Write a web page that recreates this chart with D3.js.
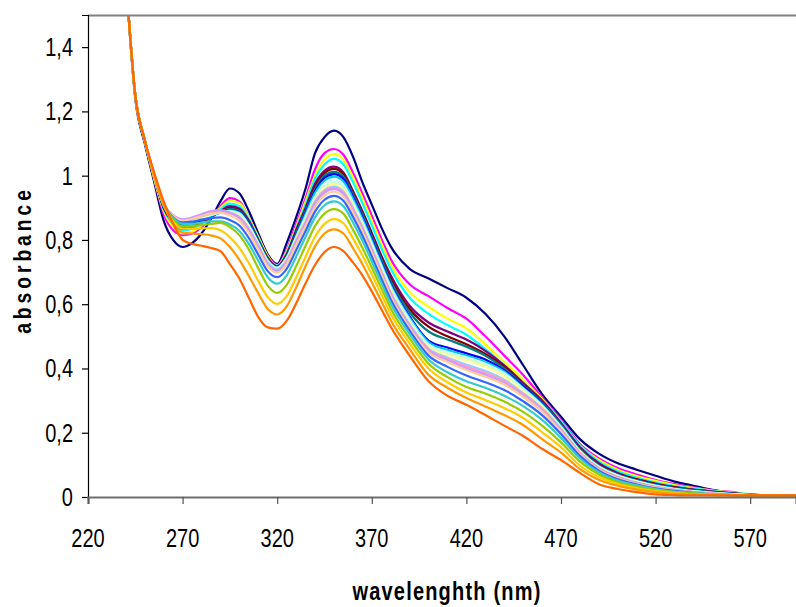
<!DOCTYPE html>
<html>
<head>
<meta charset="utf-8">
<script src="https://cdn.jsdelivr.net/npm/d3@7"></script>
<style>
  body { margin: 0; background: #fff; }
  svg { display: block; font-family: "Liberation Sans", Arial, sans-serif; }
</style>
</head>
<body>
<svg id="chart" width="796" height="607"></svg>
<script>
// wavelength grid (nm) shared by every run
var wavelengths = [240,245,250,255,260,265,270,275,280,285,290,295,300,305,310,315,320,325,330,335,340,345,350,355,360,365,370,375,380,390,400,410,420,430,440,450,460,470,480,490,500,510,520,530,540,550,560,570,580,600];

var xTicks = [220,270,320,370,420,470,520,570];
var yTicks = [0,0.2,0.4,0.6,0.8,1,1.2,1.4];

var run01 = [1.62,1.24,1.10,0.98,0.86,0.80,0.778,0.79,0.82,0.865,0.92,0.96,0.945,0.89,0.82,0.755,0.725,0.79,0.87,0.96,1.07,1.12,1.14,1.12,1.06,0.98,0.91,0.84,0.78,0.71,0.68,0.65,0.62,0.57,0.50,0.41,0.32,0.25,0.18,0.135,0.105,0.085,0.066,0.048,0.035,0.022,0.012,0.006,0.004,0.003];
var run02 = [1.62,1.25,1.11,0.99,0.88,0.83,0.815,0.82,0.84,0.87,0.905,0.93,0.92,0.87,0.81,0.75,0.722,0.77,0.85,0.93,1.02,1.07,1.083,1.065,1.01,0.945,0.875,0.805,0.74,0.662,0.625,0.588,0.555,0.50,0.44,0.38,0.31,0.24,0.165,0.12,0.09,0.07,0.053,0.04,0.03,0.021,0.016,0.007,0.004,0.003];
var run03 = [1.62,1.25,1.11,0.99,0.89,0.84,0.82,0.825,0.845,0.87,0.90,0.922,0.915,0.87,0.81,0.75,0.72,0.765,0.84,0.92,1.00,1.05,1.068,1.05,0.995,0.93,0.86,0.79,0.725,0.638,0.592,0.555,0.525,0.475,0.42,0.365,0.305,0.235,0.16,0.115,0.085,0.065,0.05,0.037,0.028,0.02,0.014,0.009,0.004,0.003];
var run04 = [1.62,1.25,1.11,1.0,0.895,0.85,0.83,0.835,0.85,0.87,0.895,0.913,0.905,0.865,0.805,0.745,0.72,0.76,0.835,0.91,0.99,1.035,1.052,1.035,0.98,0.915,0.845,0.775,0.71,0.62,0.57,0.535,0.505,0.46,0.41,0.355,0.30,0.235,0.16,0.11,0.08,0.06,0.045,0.034,0.026,0.019,0.013,0.009,0.004,0.003];
var run05 = [1.62,1.25,1.11,1.0,0.90,0.855,0.835,0.84,0.855,0.87,0.89,0.905,0.898,0.86,0.80,0.745,0.718,0.755,0.83,0.90,0.975,1.015,1.028,1.01,0.953,0.89,0.822,0.752,0.69,0.595,0.543,0.515,0.49,0.455,0.41,0.355,0.30,0.23,0.155,0.105,0.075,0.056,0.042,0.031,0.023,0.017,0.012,0.008,0.004,0.003];
var run06 = [1.62,1.25,1.11,1.0,0.90,0.86,0.84,0.845,0.858,0.872,0.888,0.90,0.893,0.855,0.80,0.742,0.716,0.753,0.825,0.895,0.965,1.008,1.021,1.005,0.948,0.885,0.815,0.745,0.68,0.585,0.53,0.50,0.475,0.445,0.405,0.35,0.295,0.225,0.15,0.10,0.072,0.054,0.04,0.03,0.022,0.016,0.011,0.007,0.004,0.003];
var run07 = [1.62,1.25,1.11,1.0,0.905,0.862,0.845,0.848,0.86,0.873,0.887,0.897,0.89,0.853,0.798,0.74,0.715,0.75,0.82,0.89,0.958,1.0,1.012,0.997,0.942,0.88,0.81,0.74,0.672,0.575,0.515,0.49,0.468,0.44,0.40,0.348,0.293,0.225,0.148,0.098,0.07,0.052,0.038,0.028,0.021,0.015,0.01,0.007,0.004,0.003];
var run08 = [1.62,1.25,1.11,1.0,0.905,0.865,0.85,0.852,0.862,0.874,0.886,0.894,0.887,0.85,0.795,0.738,0.714,0.748,0.815,0.885,0.952,0.993,1.005,0.99,0.935,0.872,0.803,0.731,0.663,0.562,0.487,0.465,0.447,0.428,0.395,0.345,0.29,0.22,0.145,0.095,0.068,0.05,0.036,0.026,0.019,0.014,0.01,0.006,0.004,0.003];
var run09 = [1.62,1.25,1.11,1.0,0.905,0.868,0.855,0.857,0.865,0.875,0.885,0.892,0.885,0.848,0.793,0.737,0.714,0.746,0.812,0.88,0.946,0.985,0.997,0.982,0.928,0.866,0.797,0.726,0.658,0.557,0.482,0.458,0.44,0.42,0.39,0.34,0.288,0.22,0.145,0.095,0.068,0.05,0.036,0.026,0.019,0.014,0.01,0.008,0.004,0.003];
var run10 = [1.62,1.25,1.11,1.0,0.91,0.87,0.858,0.86,0.868,0.878,0.886,0.89,0.882,0.845,0.79,0.735,0.713,0.744,0.808,0.872,0.935,0.973,0.985,0.97,0.918,0.857,0.789,0.719,0.652,0.551,0.475,0.45,0.435,0.415,0.385,0.337,0.285,0.218,0.143,0.094,0.067,0.049,0.035,0.025,0.018,0.013,0.009,0.006,0.004,0.003];
var run11 = [1.62,1.25,1.11,1.0,0.91,0.872,0.86,0.862,0.87,0.879,0.886,0.888,0.879,0.842,0.788,0.733,0.712,0.742,0.805,0.867,0.93,0.967,0.978,0.963,0.912,0.852,0.784,0.714,0.647,0.546,0.471,0.446,0.43,0.41,0.38,0.333,0.282,0.216,0.142,0.093,0.066,0.048,0.034,0.024,0.017,0.012,0.008,0.006,0.004,0.003];
var run12 = [1.62,1.25,1.11,1.0,0.91,0.873,0.86,0.863,0.871,0.88,0.886,0.886,0.876,0.84,0.786,0.731,0.71,0.74,0.802,0.863,0.925,0.961,0.972,0.957,0.907,0.847,0.779,0.709,0.642,0.541,0.467,0.442,0.425,0.405,0.375,0.33,0.28,0.214,0.14,0.092,0.065,0.047,0.033,0.024,0.017,0.012,0.008,0.005,0.004,0.003];
var run13 = [1.62,1.25,1.11,1.0,0.91,0.874,0.862,0.865,0.873,0.882,0.887,0.884,0.872,0.836,0.783,0.729,0.708,0.737,0.798,0.858,0.92,0.955,0.966,0.951,0.90,0.841,0.774,0.704,0.637,0.537,0.462,0.434,0.412,0.392,0.365,0.323,0.276,0.212,0.138,0.09,0.063,0.045,0.032,0.023,0.016,0.011,0.007,0.005,0.004,0.003];
var run14 = [1.62,1.25,1.11,1.0,0.91,0.875,0.862,0.866,0.875,0.884,0.888,0.883,0.87,0.833,0.78,0.726,0.705,0.734,0.795,0.855,0.916,0.951,0.962,0.947,0.896,0.837,0.77,0.70,0.634,0.533,0.458,0.43,0.406,0.386,0.36,0.32,0.274,0.21,0.137,0.089,0.062,0.044,0.031,0.022,0.015,0.011,0.007,0.005,0.004,0.003];
var run15 = [1.62,1.25,1.11,1.0,0.912,0.877,0.865,0.87,0.88,0.89,0.893,0.885,0.868,0.83,0.777,0.724,0.703,0.731,0.791,0.851,0.912,0.947,0.958,0.943,0.892,0.833,0.766,0.697,0.63,0.53,0.455,0.426,0.40,0.38,0.355,0.316,0.27,0.207,0.135,0.087,0.06,0.043,0.03,0.021,0.015,0.01,0.007,0.005,0.004,0.003];
var run16 = [1.62,1.25,1.11,1.0,0.912,0.875,0.86,0.865,0.874,0.882,0.884,0.876,0.86,0.822,0.77,0.718,0.698,0.725,0.784,0.843,0.903,0.939,0.95,0.935,0.885,0.826,0.76,0.692,0.625,0.525,0.45,0.42,0.395,0.374,0.35,0.312,0.266,0.204,0.133,0.085,0.058,0.041,0.029,0.02,0.014,0.01,0.006,0.005,0.004,0.003];
var run17 = [1.62,1.25,1.11,1.0,0.912,0.87,0.855,0.857,0.863,0.868,0.87,0.862,0.845,0.806,0.754,0.703,0.684,0.71,0.768,0.828,0.888,0.925,0.937,0.922,0.872,0.814,0.748,0.68,0.615,0.518,0.44,0.405,0.378,0.357,0.333,0.298,0.255,0.196,0.128,0.082,0.055,0.039,0.027,0.019,0.013,0.009,0.006,0.005,0.004,0.003];
var run18 = [1.62,1.25,1.11,1.0,0.91,0.868,0.85,0.85,0.854,0.858,0.858,0.848,0.828,0.788,0.735,0.684,0.664,0.69,0.748,0.81,0.87,0.908,0.92,0.905,0.855,0.798,0.733,0.667,0.602,0.507,0.428,0.388,0.36,0.34,0.315,0.283,0.24,0.184,0.12,0.077,0.051,0.036,0.025,0.017,0.012,0.009,0.006,0.005,0.004,0.003];
var run19 = [1.62,1.25,1.11,1.0,0.91,0.862,0.842,0.843,0.846,0.85,0.853,0.84,0.815,0.77,0.712,0.658,0.635,0.66,0.718,0.782,0.843,0.882,0.896,0.882,0.832,0.776,0.714,0.65,0.587,0.493,0.415,0.373,0.342,0.322,0.297,0.265,0.222,0.17,0.11,0.07,0.046,0.032,0.022,0.015,0.011,0.008,0.006,0.005,0.004,0.003];
var run20 = [1.62,1.25,1.11,1.0,0.91,0.857,0.835,0.835,0.836,0.837,0.83,0.808,0.775,0.728,0.672,0.622,0.601,0.625,0.683,0.748,0.81,0.85,0.865,0.852,0.805,0.752,0.693,0.632,0.57,0.478,0.40,0.357,0.325,0.302,0.277,0.246,0.202,0.155,0.098,0.062,0.04,0.027,0.018,0.012,0.009,0.007,0.006,0.005,0.004,0.003];
var run21 = [1.62,1.25,1.11,1.0,0.91,0.85,0.823,0.82,0.818,0.814,0.805,0.778,0.738,0.688,0.634,0.585,0.568,0.593,0.652,0.718,0.78,0.82,0.833,0.82,0.775,0.725,0.668,0.61,0.55,0.46,0.38,0.34,0.308,0.282,0.255,0.224,0.18,0.138,0.087,0.054,0.035,0.023,0.015,0.01,0.008,0.006,0.005,0.005,0.004,0.003];
var run22 = [1.62,1.25,1.11,1.01,0.92,0.85,0.80,0.788,0.782,0.775,0.765,0.725,0.68,0.62,0.56,0.528,0.524,0.548,0.602,0.665,0.722,0.762,0.778,0.765,0.73,0.69,0.64,0.585,0.53,0.44,0.36,0.315,0.287,0.255,0.222,0.19,0.15,0.115,0.075,0.04,0.025,0.015,0.008,0.006,0.005,0.005,0.005,0.005,0.005,0.005];

var runs = [run01,run02,run03,run04,run05,run06,run07,run08,run09,run10,run11,
            run12,run13,run14,run15,run16,run17,run18,run19,run20,run21,run22];

var runColors = ["#000080","#FF00FF","#FFFF00","#00FFFF","#800080","#800000","#008080","#0000FF",
                 "#00CCFF","#CCFFFF","#CCFFCC","#FFFF99","#99CCFF","#FF99CC","#CC99FF","#FFCC99",
                 "#3366FF","#33CCCC","#99CC00","#FFCC00","#FF9900","#FF6600"];

var svg = d3.select("#chart");
var plotLeft = 88, plotRight = 796, plotTop = 15, plotBottom = 497;

var xScale = d3.scaleLinear()
    .domain([220, 220 + (plotRight - plotLeft) / 1.892])
    .range([plotLeft, plotRight]);

var yScale = d3.scaleLinear()
    .domain([0, 1.5])
    .range([plotBottom, plotTop]);

svg.append("clipPath").attr("id", "plotClip")
    .append("rect")
    .attr("x", plotLeft).attr("y", plotTop)
    .attr("width", plotRight - plotLeft).attr("height", plotBottom - plotTop);

var line = d3.line()
    .x(function(d, i) { return xScale(wavelengths[i]); })
    .y(function(d) { return yScale(d); })
    .curve(d3.curveMonotoneX);

svg.append("g")
    .attr("clip-path", "url(#plotClip)")
    .selectAll("path")
    .data(runs)
    .enter()
    .append("path")
    .attr("d", line)
    .attr("fill", "none")
    .attr("stroke", function(d, i) { return runColors[i]; })
    .attr("stroke-width", 2.2)
    .attr("stroke-linejoin", "round");

// top border
svg.append("line")
    .attr("x1", plotLeft).attr("x2", plotRight)
    .attr("y1", plotTop + 0.5).attr("y2", plotTop + 0.5)
    .attr("stroke", "#808080").attr("stroke-width", 2);

// axes
var xAxis = d3.axisBottom(xScale).tickValues(xTicks).tickSize(7).tickFormat("");
var yAxis = d3.axisLeft(yScale).tickValues(yTicks).tickSize(6).tickFormat("");

var gy = svg.append("g")
    .attr("transform", "translate(" + plotLeft + ",0)")
    .call(yAxis);
gy.select(".domain").attr("stroke", "#000").attr("stroke-width", 1.2);
gy.selectAll(".tick line").attr("stroke", "#000").attr("stroke-width", 1.2);

var gx = svg.append("g")
    .attr("transform", "translate(0," + plotBottom + ")")
    .call(xAxis);
gx.select(".domain").attr("stroke", "#6e6e6e").attr("stroke-width", 2.2);
gx.selectAll(".tick line").attr("stroke", "#555").attr("stroke-width", 1.2);

// tick labels (narrow look of the original)
svg.append("g").selectAll("text")
    .data(yTicks)
    .enter()
    .append("text")
    .attr("transform", function(d) {
        return "translate(73," + (yScale(d) + 9) + ") scale(0.8,1)";
    })
    .attr("text-anchor", "end")
    .attr("font-size", 25)
    .attr("fill", "#000")
    .text(function(d) { return String(d).replace(".", ","); });

svg.append("g").selectAll("text")
    .data(xTicks)
    .enter()
    .append("text")
    .attr("transform", function(d) {
        return "translate(" + xScale(d) + ",547) scale(0.8,1)";
    })
    .attr("text-anchor", "middle")
    .attr("font-size", 25)
    .attr("fill", "#000")
    .text(function(d) { return d; });

// axis titles
svg.append("text")
    .attr("transform", "translate(447,600) scale(0.8,1)")
    .attr("text-anchor", "middle")
    .attr("font-size", 25)
    .attr("font-weight", "bold")
    .attr("letter-spacing", 1.5)
    .text("wavelenghth (nm)");

svg.append("text")
    .attr("transform", "translate(31,260) rotate(-90) scale(0.8,1)")
    .attr("text-anchor", "middle")
    .attr("font-size", 24)
    .attr("font-weight", "bold")
    .attr("letter-spacing", 5)
    .text("absorbance");
</script>
</body>
</html>
